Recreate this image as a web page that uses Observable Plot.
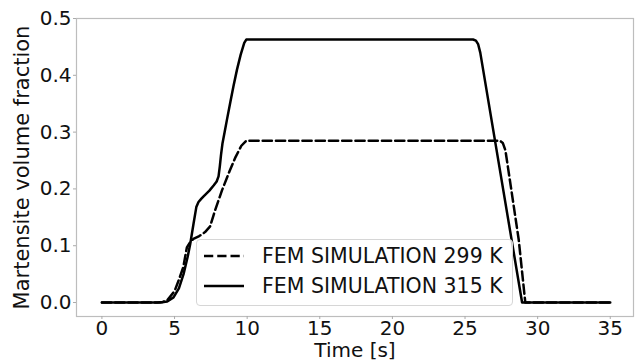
<!DOCTYPE html>
<html>
<head>
<meta charset="utf-8">
<script src="https://cdn.jsdelivr.net/npm/d3@7"></script>
<script src="https://cdn.jsdelivr.net/npm/@observablehq/plot@0.6"></script>
<style>
  body { margin: 0; background: white; }
  #wrap { position: relative; width: 635px; height: 361px; font-family: "DejaVu Sans", sans-serif; }
  #legend { position: absolute; left: 196px; top: 239px; width: 317px; height: 67px; box-sizing: border-box;
    border: 1px solid #d6d6d6; border-radius: 4px; background: rgba(255,255,255,0.8); }
  #legend .row { position: absolute; left: 0; height: 30px; display: flex; align-items: center; }
  #legend .row span { font-size: 20.5px; color: #111; margin-left: 18px; white-space: nowrap; }
  #legend svg { margin-left: 7px; }
</style>
</head>
<body>
<div id="wrap"></div>
<script>
// Series: FEM SIMULATION 299 K (dashed)
const t299 = [0, 3.8, 4.2, 4.5, 5.0, 5.3, 5.6, 5.85, 6.1, 6.3, 6.7, 7.1, 7.45, 7.8, 8.26, 8.8, 9.2, 9.6, 9.94, 27.4, 27.6, 27.78, 28.15, 28.7, 29.15, 35];
const v299 = [0, 0, 0.001, 0.004, 0.02, 0.04, 0.062, 0.097, 0.107, 0.112, 0.117, 0.124, 0.134, 0.163, 0.197, 0.232, 0.256, 0.276, 0.285, 0.285, 0.281, 0.268, 0.205, 0.11, 0, 0];
// Series: FEM SIMULATION 315 K (solid)
const t315 = [0, 4.0, 4.5, 4.93, 5.3, 5.62, 5.9, 6.08, 6.31, 6.5, 6.65, 6.85, 7.0, 7.4, 7.69, 7.9, 8.03, 8.12, 8.2, 8.3, 8.45, 8.61, 8.85, 9.06, 9.3, 9.55, 9.8, 9.94, 25.55, 25.75, 25.9, 26.05, 28.93, 35];
const v315 = [0, 0, 0.002, 0.009, 0.025, 0.05, 0.08, 0.103, 0.139, 0.168, 0.177, 0.183, 0.187, 0.197, 0.206, 0.213, 0.222, 0.24, 0.26, 0.28, 0.30, 0.322, 0.354, 0.381, 0.41, 0.436, 0.457, 0.463, 0.463, 0.461, 0.455, 0.44, 0, 0];
const seriesNames = ["FEM SIMULATION 299 K", "FEM SIMULATION 315 K"];
const xTicks = [0, 5, 10, 15, 20, 25, 30, 35];
const yTicks = [0, 0.1, 0.2, 0.3, 0.4, 0.5];
const xLabel = "Time [s]";
const yLabel = "Martensite volume fraction";

const d299 = t299.map((t, i) => ({t, v: v299[i]}));
const d315 = t315.map((t, i) => ({t, v: v315[i]}));

const chart = Plot.plot({
  width: 635, height: 361,
  marginLeft: 76, marginRight: 2, marginTop: 18, marginBottom: 45,
  x: {domain: [-1.75, 36.6]},
  y: {domain: [-0.0246, 0.5]},
  style: {fontFamily: "DejaVu Sans", fontSize: "20px", background: "white", color: "#111", overflow: "visible"},
  marks: [
    Plot.frame({stroke: "#bdbdbd", strokeWidth: 1.2}),
    Plot.axisX({ticks: xTicks, tickSize: 3, tickPadding: 1.5, stroke: "#aaa", fill: "#111", label: null}),
    Plot.axisY({ticks: yTicks, tickSize: 3, tickPadding: 2, stroke: "#aaa", fill: "#111",
      tickFormat: d => d.toFixed(1), label: null}),
    Plot.text([xLabel], {text: d => d, frameAnchor: "bottom", dy: 34.5, textAnchor: "middle", lineAnchor: "middle", fontSize: 20, fill: "#111"}),
    Plot.text([yLabel], {text: d => d, frameAnchor: "left", dx: -54, rotate: -90, textAnchor: "middle", lineAnchor: "middle", fontSize: 21, fill: "#111"}),
    Plot.line(d299, {x: "t", y: "v", stroke: "black", strokeWidth: 2.5, strokeDasharray: "9.25,4"}),
    Plot.line(d315, {x: "t", y: "v", stroke: "black", strokeWidth: 2.5})
  ]
});
const wrap = document.getElementById("wrap");
wrap.appendChild(chart);

const legend = document.createElement("div");
legend.id = "legend";
const dashes = ["9.25,4", null];
seriesNames.forEach((name, i) => {
  const row = document.createElement("div");
  row.className = "row";
  row.style.top = (i === 0 ? 1 : 31) + "px";
  row.innerHTML = `<svg width="40" height="10"><line x1="0" x2="40" y1="5" y2="5" stroke="black" stroke-width="2.5" ${dashes[i] ? `stroke-dasharray="${dashes[i]}"` : ""}/></svg><span>${name}</span>`;
  legend.appendChild(row);
});
wrap.appendChild(legend);
</script>
</body>
</html>
